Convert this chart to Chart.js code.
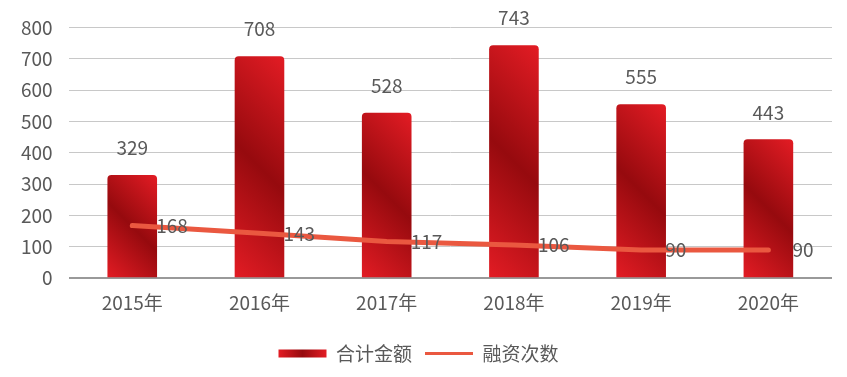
<!DOCTYPE html>
<html>
<head>
<meta charset="utf-8">
<script src="https://cdn.jsdelivr.net/npm/chart.js@4.4.0/dist/chart.umd.min.js"></script>
<style>
  html, body { margin: 0; padding: 0; background: #fff; }
  #wrap { width: 847px; height: 377px; }
</style>
</head>
<body>
<div id="wrap"><canvas id="chart" width="847" height="377"></canvas></div>
<script>
// Data
const years = ['2015年', '2016年', '2017年', '2018年', '2019年', '2020年'];
const totalAmount = [329, 708, 528, 743, 555, 443];
const financingCount = [168, 143, 117, 106, 90, 90];
const yMin = 0;
const yMax = 800;
const yStep = 100;

const FONT = "'Noto Sans CJK SC', 'Noto Sans', sans-serif";
const FONT_SIZE = 19;
const TEXT = '#595959';
const BRIGHT = '#E31C24';
const DARK = '#960A0E';
const LINE = '#EA5840';
const BAR_PCT = 0.39;

// diagonal gradient: bright corners, dark band through the middle
function diagGradient(ctx, left, top, right, bottom) {
    const cx = (left + right) / 2;
    const cy = (top + bottom) / 2;
    const k = ((right - left) + (bottom - top)) / 4;
    const g = ctx.createLinearGradient(cx - k, cy + k, cx + k, cy - k);
    g.addColorStop(0, BRIGHT);
    g.addColorStop(0.5, DARK);
    g.addColorStop(1, BRIGHT);
    return g;
}

function barFill(c) {
    const chart = c.chart;
    if (c.type !== 'data' || !chart.chartArea || !chart.scales.x) return '#C4121A';
    const xs = chart.scales.x;
    const ys = chart.scales.y;
    const cx = xs.getPixelForValue(c.dataIndex);
    const w = (chart.chartArea.width / years.length) * BAR_PCT;
    return diagGradient(chart.ctx, cx - w / 2, ys.getPixelForValue(c.raw), cx + w / 2, ys.getPixelForValue(0));
}

// value labels above bars and right of line points
const valueLabels = {
    id: 'valueLabels',
    afterDatasetsDraw(chart) {
        const ctx = chart.ctx;
        ctx.save();
        ctx.font = `${FONT_SIZE}px ${FONT}`;
        ctx.fillStyle = TEXT;
        ctx.textBaseline = 'middle';
        ctx.textAlign = 'center';
        chart.getDatasetMeta(0).data.forEach((el, i) => {
            ctx.fillText(String(totalAmount[i]), el.x, el.y - 27);
        });
        ctx.textAlign = 'left';
        chart.getDatasetMeta(1).data.forEach((pt, i) => {
            ctx.fillText(String(financingCount[i]), pt.x + 24, pt.y);
        });
        ctx.restore();
    }
};

// gradient swatch in the legend
const legendGradient = {
    id: 'legendGradient',
    beforeDraw(chart) {
        const lg = chart.legend;
        if (!lg || !lg.legendHitBoxes || !lg.legendItems) return;
        lg.legendItems.forEach((item, i) => {
            if (item.datasetIndex !== 0) return;
            const hb = lg.legendHitBoxes[i];
            const g = chart.ctx.createLinearGradient(hb.left, 0, hb.left + 48, 0);
            g.addColorStop(0, BRIGHT);
            g.addColorStop(0.5, DARK);
            g.addColorStop(1, BRIGHT);
            item.fillStyle = g;
        });
    }
};

new Chart(document.getElementById('chart'), {
    type: 'bar',
    data: {
        labels: years,
        datasets: [
            {
                label: '合计金额',
                data: totalAmount,
                backgroundColor: barFill,
                borderRadius: { topLeft: 4, topRight: 4 },
                borderSkipped: 'bottom',
                barPercentage: BAR_PCT,
                categoryPercentage: 1,
                order: 2
            },
            {
                type: 'line',
                label: '融资次数',
                data: financingCount,
                borderColor: LINE,
                backgroundColor: LINE,
                borderWidth: 5,
                borderCapStyle: 'round',
                pointRadius: 0,
                pointHoverRadius: 0,
                tension: 0,
                fill: false,
                order: 1
            }
        ]
    },
    options: {
        responsive: false,
        animation: false,
        layout: { padding: { top: 18, right: 15, left: 5, bottom: 4 } },
        plugins: {
            legend: {
                position: 'bottom',
                labels: {
                    usePointStyle: true,
                    pointStyleWidth: 48,
                    boxHeight: 8,
                    padding: 13,
                    color: TEXT,
                    font: { family: FONT, size: FONT_SIZE },
                    generateLabels: (chart) => [
                        { text: '合计金额', datasetIndex: 0, pointStyle: 'rect', fillStyle: '#C4121A', strokeStyle: 'transparent', lineWidth: 0, fontColor: TEXT },
                        { text: '融资次数', datasetIndex: 1, pointStyle: 'line', fillStyle: LINE, strokeStyle: LINE, lineWidth: 3, fontColor: TEXT }
                    ]
                }
            },
            tooltip: { enabled: false }
        },
        scales: {
            x: {
                grid: { display: false },
                border: { display: false },
                ticks: { color: TEXT, font: { family: FONT, size: FONT_SIZE }, padding: 5 },
                afterFit: (scale) => { scale.height += 12; }
            },
            y: {
                min: yMin,
                max: yMax,
                border: { display: false },
                grid: {
                    drawTicks: false,
                    color: (c) => c.tick && c.tick.value === 0 ? '#999999' : '#c8c8c8',
                    lineWidth: (c) => c.tick && c.tick.value === 0 ? 2 : 1
                },
                ticks: {
                    stepSize: yStep,
                    padding: 16,
                    color: TEXT,
                    font: { family: FONT, size: FONT_SIZE }
                }
            }
        }
    },
    plugins: [legendGradient, valueLabels]
});
</script>
</body>
</html>
